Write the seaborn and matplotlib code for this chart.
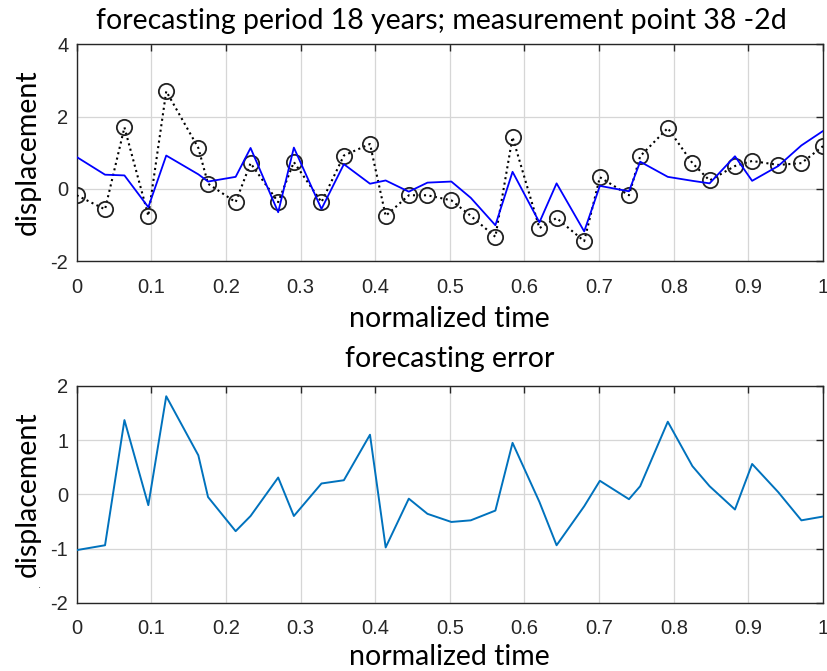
import numpy as np
import pandas as pd
import matplotlib
matplotlib.use("Agg")
import matplotlib.pyplot as plt
import seaborn as sns

# ---- data ----
t = [0.0, 0.038, 0.064, 0.096, 0.120, 0.163, 0.176, 0.213, 0.233, 0.270,
     0.291, 0.328, 0.358, 0.393, 0.414, 0.445, 0.470, 0.502, 0.528, 0.561,
     0.584, 0.620, 0.643, 0.680, 0.701, 0.740, 0.755, 0.792, 0.825, 0.848,
     0.882, 0.905, 0.940, 0.971, 1.0]
measured = [-0.18, -0.57, 1.70, -0.75, 2.70, 1.13, 0.14, -0.37, 0.71, -0.37,
            0.74, -0.37, 0.92, 1.24, -0.75, -0.18, -0.18, -0.32, -0.75, -1.33,
            1.43, -1.09, -0.81, -1.45, 0.32, -0.18, 0.90, 1.68, 0.71, 0.23,
            0.63, 0.77, 0.66, 0.71, 1.18]
forecast = [0.88, 0.39, 0.37, -0.51, 0.92, 0.40, 0.20, 0.33, 1.13, -0.65,
            1.14, -0.56, 0.68, 0.14, 0.23, -0.08, 0.17, 0.20, -0.25, -1.01,
            0.47, -0.93, 0.15, -1.18, 0.08, -0.07, 0.75, 0.33, 0.22, 0.15,
            0.90, 0.22, 0.63, 1.20, 1.60]
error = [-1.03, -0.94, 1.37, -0.20, 1.81, 0.72, -0.05, -0.68, -0.40, 0.31,
         -0.40, 0.20, 0.26, 1.10, -0.98, -0.08, -0.36, -0.51, -0.48, -0.30,
         0.95, -0.14, -0.94, -0.22, 0.25, -0.09, 0.15, 1.34, 0.52, 0.15,
         -0.28, 0.56, 0.04, -0.48, -0.41]

xticks = [0, 0.1, 0.2, 0.3, 0.4, 0.5, 0.6, 0.7, 0.8, 0.9, 1]
xticklabels = ["0", "0.1", "0.2", "0.3", "0.4", "0.5", "0.6", "0.7", "0.8", "0.9", "1"]
yticks_top = [-2, 0, 2, 4]
yticks_bot = [-2, -1, 0, 1, 2]

title_top = "forecasting period 18 years; measurement point 38 -2d"
title_bot = "forecasting error"
xlabel = "normalized time"
ylabel = "displacement"

df = pd.DataFrame({"t": t, "measured": measured, "forecast": forecast, "error": error})

sns.set_style("white")
plt.rcParams["font.family"] = ["Liberation Sans", "DejaVu Sans"]
plt.rcParams["axes.unicode_minus"] = False

fig = plt.figure(figsize=(8.28, 6.71), dpi=100)
ax1 = fig.add_axes([0.0926, 0.611, 0.9014, 0.323])
ax2 = fig.add_axes([0.0926, 0.1018, 0.9014, 0.323])

label_font = dict(family="Lato", size=20.5, color="black")

sns.lineplot(data=df, x="t", y="measured", ax=ax1, sort=False, estimator=None,
             color="black", linestyle=":", linewidth=1.5, marker="o",
             markersize=11, markerfacecolor="none", markeredgecolor="#222222",
             markeredgewidth=1.3, zorder=3)
sns.lineplot(data=df, x="t", y="forecast", ax=ax1, sort=False, estimator=None,
             color="#0000ff", linewidth=1.3, zorder=4)
sns.lineplot(data=df, x="t", y="error", ax=ax2, sort=False, estimator=None,
             color="#0072BD", linewidth=1.4, zorder=3)

for ax, yt, ylim, lp in [(ax1, yticks_top, (-2, 4), 7), (ax2, yticks_bot, (-2, 2), 4)]:
    ax.set_xlim(0, 1)
    ax.set_ylim(*ylim)
    ax.set_xticks(xticks)
    ax.set_xticklabels(xticklabels)
    ax.set_yticks(yt)
    ax.grid(True, color="#d6d6d6", linewidth=0.9)
    ax.set_axisbelow(True)
    ax.tick_params(direction="in", length=5, width=1.0, top=True, right=True,
                   labelsize=14.5, colors="#262626")
    ax.tick_params(axis="x", pad=12)
    ax.tick_params(axis="y", pad=6)
    for s in ax.spines.values():
        s.set_color("#262626")
        s.set_linewidth(1.0)
    ax.set_xlabel(xlabel, fontdict=label_font, labelpad=lp)
    ax.set_ylabel(ylabel, fontdict=label_font, labelpad=7)

ax1.set_title(title_top, fontdict=label_font, pad=11, x=0.488)
ax2.set_title(title_bot, fontdict=label_font, pad=14)

fig.text(0.046, 0.123, ".", fontsize=8, color="#444444")

fig.savefig("out.png", dpi=100)
